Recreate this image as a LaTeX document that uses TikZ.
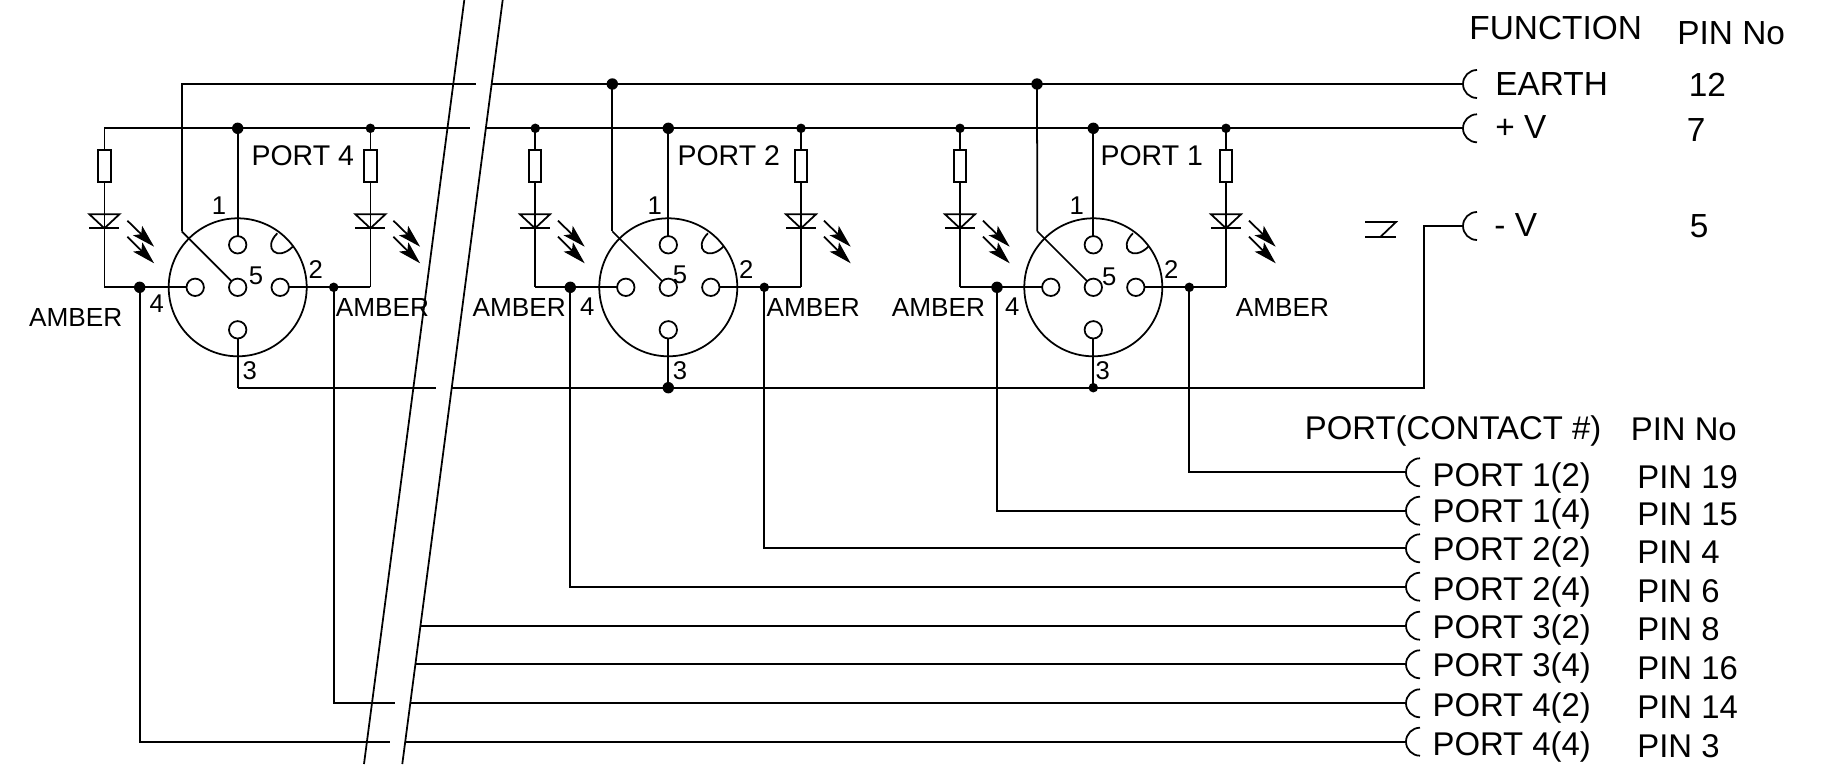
\documentclass[tikz,border=0pt]{standalone}
\usepackage{fontspec}
\setmainfont{Liberation Sans}
\usetikzlibrary{arrows.meta}
\tikzset{
  txt/.style={inner sep=0pt,anchor=base west,font=\fontsize{9.35}{10}\selectfont},
  toptxt/.style={inner sep=0pt,anchor=base west,font=\fontsize{9.5}{10}\selectfont},
  amber/.style={inner sep=0pt,anchor=base west,font=\fontsize{7.45}{8}\selectfont},
  portname/.style={inner sep=0pt,anchor=base west,font=\fontsize{8.1}{9}\selectfont},
  pinnum/.style={inner sep=0pt,font=\fontsize{7.3}{8}\selectfont},
  bigdot/.style={circle,fill=black,inner sep=0pt,minimum size=0.114cm},
  smalldot/.style={circle,fill=black,inner sep=0pt,minimum size=0.095cm},
  glow/.style={-{Stealth[length=0.23cm,width=0.13cm,inset=0.05cm]}},
  plugcup/.pic={\draw (0.14,0.14) arc (90:270:0.14);}
}
\begin{document}
\begin{tikzpicture}[line width=0.5pt]
\useasboundingbox (0,0) rectangle (18.35,7.64);
%break lines
\draw (4.643,7.64) -- (3.64,0);
\draw (5.027,7.64) -- (4.023,0);
%supply coordinates
\coordinate (cupE) at (14.63,6.8);
\coordinate (cupP) at (14.63,6.357);
\coordinate (cupM) at (14.63,5.38);
\coordinate (earthL) at (1.817,6.8);
\coordinate (plusL) at (1.043,6.357);
\coordinate (minusL) at (2.377,3.763);
\pic at (cupE) {plugcup};
\pic at (cupP) {plugcup};
\pic at (cupM) {plugcup};
%supply lines
\draw (1.817,5.327) -- (earthL) -- (4.757,6.8);
\draw (4.917,6.8) -- (cupE);
\draw (plusL) -- (4.7,6.357);
\draw (4.85,6.357) -- (cupP);
\draw (minusL) -- (4.36,3.763);
\draw (4.51,3.763) -- (14.24,3.763) |- (cupM);
%stray mark
\draw (13.65,5.42) -- (13.96,5.42) -- (13.8,5.267);
\draw (13.65,5.267) -- (13.96,5.267);
%connectors
\foreach \cx/\prt/\fourx/\ltx/\lty/\plx/\onex/\fivex/\fivey/\threex/\foury/\ambrx in {
  2.377/4/-0.98/0.283/4.373/0.13/-0.187/0.183/0.116/0.12/-0.16/3.35,
  6.683/2/-0.98/4.717/4.48/0.084/-0.136/0.117/0.13/0.117/-0.19/7.657,
  10.933/1/-0.963/8.91/4.48/0.064/-0.166/0.16/0.11/0.094/-0.19/12.35}{
\coordinate (c\prt) at (\cx,4.767);
\draw (c\prt) circle (0.69);
%pins
\draw (\cx,5.192) circle (0.087);
\draw (\cx,4.767) circle (0.087);
\draw (\cx,4.342) circle (0.087);
\draw (\cx-0.425,4.767) circle (0.087);
\draw (\cx+0.425,4.767) circle (0.087);
%key
\draw (\cx+0.396,5.307) .. controls (\cx+0.244,5.155) and (\cx+0.398,5.021) .. (\cx+0.55,5.173);
%wires of the pins
\draw (\cx,5.279) -- (\cx,6.357);
\draw (\cx,4.255) -- (\cx,3.763);
\draw (\cx-0.56,5.327) -- (\cx-0.0615,4.8285);
\draw (\cx-1.333,4.767) -- (\cx-0.512,4.767);
\draw (\cx+0.512,4.767) -- (\cx+1.327,4.767);
%leds
\foreach \lx in {\cx-1.333,\cx+1.327}{
\pgfmathsetmacro{\ledx}{\lx}
\draw (\ledx,6.357) -- (\ledx,6.14);
\draw (\ledx-0.063,6.14) rectangle (\ledx+0.063,5.817);
\draw (\ledx,5.817) -- (\ledx,4.767);
\draw (\ledx-0.15,5.497) -- (\ledx+0.15,5.497) -- (\ledx,5.357) -- cycle;
\draw (\ledx-0.15,5.357) -- (\ledx+0.15,5.357);
\draw[glow] (\ledx+0.23,5.433) -- (\ledx+0.497,5.173);
\draw[glow] (\ledx+0.23,5.273) -- (\ledx+0.497,5.007);
}
%dots
\node[bigdot] (top\prt) at (\cx,6.357) {};
\node[smalldot] (ledr\prt) at (\cx+1.327,6.357) {};
\node[bigdot] (dl\prt) at (\cx+\fourx,4.767) {};
\node[smalldot] (dr\prt) at (\cx+0.96,4.767) {};
%labels
\node[portname] at (\cx+\plx,5.983) {PORT \prt};
\node[pinnum] at (\cx+\onex,5.58) {1};
\node[pinnum] at (\cx+0.78,4.94) {2};
\node[pinnum] at (\cx+\threex,3.935) {3};
\node[pinnum] at (\cx-0.81,4.767+\foury) {4};
\node[pinnum] at (\cx+\fivex,4.767+\fivey) {5};
\node[amber] at (\ltx,\lty) {AMBER};
\node[amber] at (\ambrx,4.473) {AMBER};
}
%tees on the lines
\node[smalldot] (ledl2) at (5.353,6.357) {};
\node[smalldot] (ledl1) at (9.6,6.357) {};
\node[bigdot] (earth2) at (6.123,6.8) {};
\node[bigdot] (earth1) at (10.37,6.8) {};
\node[bigdot] (minus2) at (6.683,3.763) {};
\node[smalldot] (minus1) at (10.933,3.763) {};
\draw (earth2.center) -- (6.123,5.327);
\draw (earth1.center) -- (10.373,5.327);
%function column
\node[toptxt] at (14.685,7.25) {FUNCTION};
\node[toptxt] at (16.765,7.195) {PIN No};
\node[toptxt] at (14.945,6.69) {EARTH};
\node[toptxt] at (14.945,6.26) {+ V};
\node[toptxt] at (14.935,5.28) {- V};
\node[toptxt] at (16.88,6.68) {12};
\node[toptxt] at (16.86,6.23) {7};
\node[toptxt] at (16.89,5.27) {5};
%port column
\node[txt] at (13.04,3.25) {PORT(CONTACT \#)};
\node[txt] at (16.3,3.24) {PIN No};
\foreach \row/\ly/\pb/\nb/\plbl/\pin in {
  a/2.917/2.78/2.757/1(2)/19,
  b/2.533/2.413/2.383/1(4)/15,
  c/2.157/2.033/2.007/2(2)/4,
  d/1.773/1.64/1.617/2(4)/6,
  e/1.383/1.257/1.233/3(2)/8,
  f/0.997/0.873/0.847/3(4)/16,
  g/0.607/0.48/0.457/4(2)/14,
  h/0.223/0.09/0.067/4(4)/3}{
\coordinate (cup\row) at (14.06,\ly);
\pic at (cup\row) {plugcup};
\node[txt] at (14.317,\pb) {PORT \plbl};
\node[txt] at (16.365,\nb) {PIN \pin};
}
%port wires
\draw (dr1.center) |- (cupa);
\draw (dl1.center) |- (cupb);
\draw (dr2.center) |- (cupc);
\draw (dl2.center) |- (cupd);
\coordinate (starte) at (4.207,1.383);
\coordinate (startf) at (4.157,0.997);
\coordinate (startg) at (4.107,0.607);
\coordinate (starth) at (4.057,0.223);
\draw (starte) -- (cupe);
\draw (startf) -- (cupf);
\draw (startg) -- (cupg);
\draw (starth) -- (cuph);
\draw (dr4.center) |- (3.95,0.607);
\draw (dl4.center) |- (3.897,0.223);
\end{tikzpicture}
\end{document}
